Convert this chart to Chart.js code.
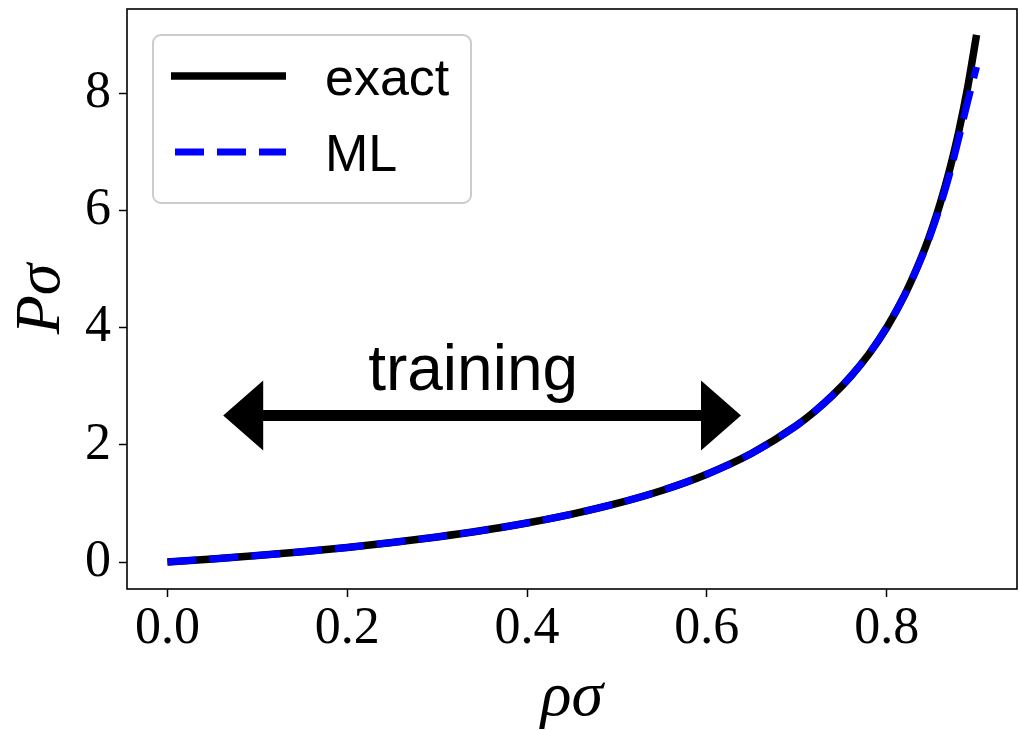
<!DOCTYPE html>
<html>
<head>
<meta charset="utf-8">
<script src="https://cdn.jsdelivr.net/npm/chart.js@4"></script>
<style>
  body { margin: 0; background: #fff; }
  canvas { display: block; }
</style>
</head>
<body>
<canvas id="chart" width="1019" height="730"></canvas>
<script>
// density values and pressure curves
const rho = [0, 0.05, 0.1, 0.15, 0.2, 0.25, 0.3, 0.35, 0.4, 0.45, 0.5, 0.55, 0.6, 0.65,
  0.7, 0.72, 0.74, 0.76, 0.78, 0.8, 0.82, 0.84, 0.85, 0.86, 0.87, 0.88, 0.89, 0.9];
const exactP = [0, 0.053, 0.111, 0.176, 0.25, 0.333, 0.429, 0.538, 0.667, 0.818, 1.0, 1.222, 1.5, 1.857,
  2.333, 2.571, 2.846, 3.167, 3.545, 4.0, 4.556, 5.25, 5.667, 6.143, 6.692, 7.333, 8.091, 9.0];
const mlP = [0, 0.054, 0.112, 0.176, 0.25, 0.333, 0.428, 0.537, 0.666, 0.818, 1.0, 1.222, 1.5, 1.857,
  2.333, 2.57, 2.85, 3.17, 3.55, 4.01, 4.56, 5.24, 5.64, 6.1, 6.62, 7.22, 7.85, 8.45];

const xTicks = [0, 0.2, 0.4, 0.6, 0.8];
const yTicks = [0, 2, 4, 6, 8];
const seriesLabels = ["exact", "ML"];

// training window annotation
const trainingRange = [0.062, 0.638];
const trainingY = 2.5;
const trainingText = "training";
const trainingTextPos = [0.34, 2.94];

const serif = "'Liberation Serif', 'DejaVu Serif', serif";
const sans = "'Liberation Sans', Arial, sans-serif";

function points(ys) {
  return rho.map((x, i) => ({ x, y: ys[i] }));
}

const overlay = {
  id: "overlay",
  afterDatasetsDraw(chart) {
    const { ctx, scales: { x, y } } = chart;
    const x0 = x.getPixelForValue(trainingRange[0]);
    const x1 = x.getPixelForValue(trainingRange[1]);
    const yc = y.getPixelForValue(trainingY);
    const headLen = 40, headHalf = 35, shaftHalf = 5.5;

    ctx.save();
    ctx.fillStyle = "#000";
    ctx.beginPath();
    ctx.moveTo(x0, yc);
    ctx.lineTo(x0 + headLen, yc - headHalf);
    ctx.lineTo(x0 + headLen, yc - shaftHalf);
    ctx.lineTo(x1 - headLen, yc - shaftHalf);
    ctx.lineTo(x1 - headLen, yc - headHalf);
    ctx.lineTo(x1, yc);
    ctx.lineTo(x1 - headLen, yc + headHalf);
    ctx.lineTo(x1 - headLen, yc + shaftHalf);
    ctx.lineTo(x0 + headLen, yc + shaftHalf);
    ctx.lineTo(x0 + headLen, yc + headHalf);
    ctx.closePath();
    ctx.fill();

    ctx.font = `64px ${sans}`;
    ctx.textAlign = "center";
    ctx.textBaseline = "alphabetic";
    ctx.fillText(trainingText, x.getPixelForValue(trainingTextPos[0]), y.getPixelForValue(trainingTextPos[1]));
    ctx.restore();
  },
  afterDraw(chart) {
    const { ctx, chartArea: a } = chart;
    ctx.save();

    // full frame round the plot
    ctx.strokeStyle = "#000";
    ctx.lineWidth = 1.6;
    ctx.strokeRect(a.left, a.top, a.right - a.left, a.bottom - a.top);

    // legend box, upper left
    const bx = a.left + 26, by = a.top + 26, bw = 318, bh = 168, r = 8;
    ctx.beginPath();
    ctx.roundRect(bx, by, bw, bh, r);
    ctx.fillStyle = "rgba(255,255,255,0.8)";
    ctx.fill();
    ctx.strokeStyle = "#cccccc";
    ctx.lineWidth = 2;
    ctx.stroke();

    const rows = [by + 41, by + 117];
    chart.data.datasets.forEach((ds, i) => {
      ctx.beginPath();
      ctx.strokeStyle = ds.borderColor;
      ctx.lineWidth = ds.borderWidth;
      ctx.lineCap = "butt";
      ctx.setLineDash(ds.borderDash || []);
      const sx = i === 0 ? bx + 18 : bx + 22;
      ctx.moveTo(sx, rows[i]);
      ctx.lineTo(bx + 133, rows[i]);
      ctx.stroke();
      ctx.setLineDash([]);

      ctx.fillStyle = "#000";
      ctx.font = `52px ${sans}`;
      ctx.textAlign = "left";
      ctx.textBaseline = "alphabetic";
      ctx.fillText(ds.label, bx + 172, rows[i] + 19);
    });
    ctx.restore();
  }
};

new Chart(document.getElementById("chart"), {
  type: "line",
  data: {
    datasets: [
      {
        label: seriesLabels[0],
        data: points(exactP),
        borderColor: "#000000",
        borderWidth: 7.5,
        borderCapStyle: "butt",
        pointRadius: 0,
        cubicInterpolationMode: "monotone",
        order: 2,
      },
      {
        label: seriesLabels[1],
        data: points(mlP),
        borderColor: "#0000ff",
        borderWidth: 7,
        borderDash: [29, 13],
        borderCapStyle: "butt",
        pointRadius: 0,
        cubicInterpolationMode: "monotone",
        order: 1,
      },
    ],
  },
  options: {
    responsive: false,
    devicePixelRatio: 1,
    animation: false,
    layout: { padding: { top: 9, right: 2, left: 0, bottom: 0 } },
    plugins: {
      legend: { display: false },
      tooltip: { enabled: false },
    },
    scales: {
      x: {
        type: "linear",
        min: -0.045,
        max: 0.945,
        afterBuildTicks: (s) => { s.ticks = xTicks.map(v => ({ value: v })); },
        afterFit: (s) => { s.height = 141; s.paddingLeft = 0; s.paddingRight = 0; },
        ticks: {
          callback: (v) => v.toFixed(1),
          font: { family: serif, size: 52 },
          color: "#000",
          padding: 1,
          maxRotation: 0,
          autoSkip: false,
        },
        grid: { drawOnChartArea: false, tickLength: 8, tickWidth: 1.5, tickColor: "#000" },
        border: { display: false },
        title: {
          display: true,
          text: "ρσ",
          color: "#000",
          font: { family: serif, size: 64, style: "italic", lineHeight: 1.0 },
          padding: { top: 0, bottom: 0 },
        },
      },
      y: {
        type: "linear",
        min: -0.46,
        max: 9.44,
        afterBuildTicks: (s) => { s.ticks = yTicks.map(v => ({ value: v })); },
        afterFit: (s) => { s.width = 127; s.paddingTop = 0; s.paddingBottom = 0; },
        ticks: {
          callback: (v) => String(v),
          font: { family: serif, size: 52 },
          color: "#000",
          padding: 8,
          autoSkip: false,
        },
        grid: { drawOnChartArea: false, tickLength: 8, tickWidth: 1.5, tickColor: "#000" },
        border: { display: false },
        title: {
          display: true,
          text: "Pσ",
          color: "#000",
          font: { family: serif, size: 64, style: "italic" },
          padding: { top: 4, bottom: 0 },
        },
      },
    },
  },
  plugins: [overlay],
});
</script>
</body>
</html>
